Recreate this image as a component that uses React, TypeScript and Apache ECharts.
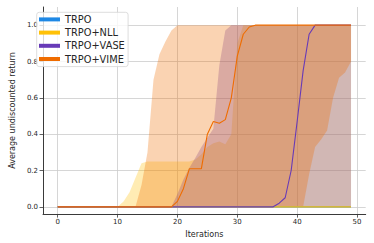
import { useEffect, useRef } from 'react';
import * as echarts from 'echarts';

const iterations = [0, 1, 2, 3, 4, 5, 6, 7, 8, 9, 10, 11, 12, 13, 14, 15, 16, 17, 18, 19, 20, 21, 22, 23, 24, 25, 26, 27, 28, 29, 30, 31, 32, 33, 34, 35, 36, 37, 38, 39, 40, 41, 42, 43, 44, 45, 46, 47, 48, 49];

const seriesNames = ['TRPO', 'TRPO+NLL', 'TRPO+VASE', 'TRPO+VIME'];
const seriesColors = ['#1e88e5', '#ffc107', '#673ab7', '#ef6c00'];

// mean curves
const trpoMean = [0, 0, 0, 0, 0, 0, 0, 0, 0, 0, 0, 0, 0, 0, 0, 0, 0, 0, 0, 0, 0, 0, 0, 0, 0, 0, 0, 0, 0, 0, 0, 0, 0, 0, 0, 0, 0, 0, 0, 0, 0, 0, 0, 0, 0, 0, 0, 0, 0, 0];
const nllMean = [0, 0, 0, 0, 0, 0, 0, 0, 0, 0, 0, 0, 0, 0, 0, 0, 0, 0, 0, 0, 0, 0, 0, 0, 0, 0, 0, 0, 0, 0, 0, 0, 0, 0, 0, 0, 0, 0, 0, 0, 0, 0, 0, 0, 0, 0, 0, 0, 0, 0];
const vaseMean = [0, 0, 0, 0, 0, 0, 0, 0, 0, 0, 0, 0, 0, 0, 0, 0, 0, 0, 0, 0, 0, 0, 0, 0, 0, 0, 0, 0, 0, 0, 0, 0, 0, 0, 0, 0, 0, 0.02, 0.05, 0.2, 0.47, 0.75, 0.95, 1, 1, 1, 1, 1, 1, 1];
const vimeMean = [0, 0, 0, 0, 0, 0, 0, 0, 0, 0, 0, 0, 0, 0, 0, 0, 0, 0, 0, 0, 0.03, 0.1, 0.21, 0.21, 0.21, 0.4, 0.47, 0.46, 0.48, 0.6, 0.83, 0.95, 0.99, 1, 1, 1, 1, 1, 1, 1, 1, 1, 1, 1, 1, 1, 1, 1, 1, 1];

// shaded bands (lower / upper)
const nllLower = [0, 0, 0, 0, 0, 0, 0, 0, 0, 0, 0, 0, 0, 0, 0, 0, 0, 0, 0, 0, 0, 0, 0, 0, 0, 0, 0, 0, 0, 0, 0, 0, 0, 0, 0, 0, 0, 0, 0, 0, 0, 0, 0, 0, 0, 0, 0, 0, 0, 0];
const nllUpper = [0, 0, 0, 0, 0, 0, 0, 0, 0, 0, 0, 0.03, 0.08, 0.16, 0.24, 0.25, 0.25, 0.25, 0.25, 0.25, 0.25, 0.25, 0.25, 0.26, 0.29, 0.33, 0.35, 0.36, 0.345, 0.4, 0.9, 1, 1, 1, 1, 1, 1, 1, 1, 1, 1, 1, 1, 1, 1, 1, 1, 1, 1, 1];
const vaseLower = [0, 0, 0, 0, 0, 0, 0, 0, 0, 0, 0, 0, 0, 0, 0, 0, 0, 0, 0, 0, 0, 0, 0, 0, 0, 0, 0, 0, 0, 0, 0, 0, 0, 0, 0, 0, 0, 0, 0, 0, 0, 0, 0, 0, 0, 0, 0, 0, 0, 0];
const vaseUpper = [0, 0, 0, 0, 0, 0, 0, 0, 0, 0, 0, 0, 0, 0, 0, 0, 0, 0, 0, 0, 0.07, 0.15, 0.215, 0.27, 0.33, 0.38, 0.43, 0.78, 0.97, 1, 1, 1, 1, 1, 1, 1, 1, 1, 1, 1, 1, 1, 1, 1, 1, 1, 1, 1, 1, 1];
const vimeLower = [0, 0, 0, 0, 0, 0, 0, 0, 0, 0, 0, 0, 0, 0, 0, 0, 0, 0, 0, 0, 0, 0, 0, 0, 0, 0, 0, 0, 0, 0, 0, 0, 0, 0, 0, 0, 0, 0, 0, 0, 0, 0, 0.18, 0.33, 0.37, 0.42, 0.6, 0.71, 0.74, 0.8];
const vimeUpper = [0, 0, 0, 0, 0, 0, 0, 0, 0, 0, 0, 0, 0, 0, 0.12, 0.3, 0.7, 0.84, 0.91, 0.97, 1, 1, 1, 1, 1, 1, 1, 1, 1, 1, 1, 1, 1, 1, 1, 1, 1, 1, 1, 1, 1, 1, 1, 1, 1, 1, 1, 1, 1, 1];

const xTicks = [0, 10, 20, 30, 40, 50];
const yTicks = [0, 0.2, 0.4, 0.6, 0.8, 1.0];

const FONT = 'DejaVu Sans';

function band(name: string, lower: number[], upper: number[], color: string) {
  return {
    type: 'custom',
    name,
    coordinateSystem: 'cartesian2d',
    silent: true,
    data: [[iterations[0], lower[0]]],
    renderItem: (_params: any, api: any) => {
      const pts: number[][] = [];
      for (let i = 0; i < iterations.length; i++) pts.push(api.coord([iterations[i], upper[i]]));
      for (let i = iterations.length - 1; i >= 0; i--) pts.push(api.coord([iterations[i], lower[i]]));
      return { type: 'polygon', shape: { points: pts }, style: { fill: color, opacity: 0.3 } };
    },
  };
}

function meanLine(name: string, values: number[], color: string) {
  return {
    type: 'line',
    name,
    data: iterations.map((x, i) => [x, values[i]]),
    showSymbol: false,
    symbol: 'none',
    lineStyle: { color, width: 1.1 },
    itemStyle: { color },
    silent: true,
  };
}

export default function App() {
  const ref = useRef<HTMLDivElement>(null);
  useEffect(() => {
    if (!ref.current) return;
    const chart = echarts.init(ref.current, undefined, { renderer: 'svg' });
    chart.setOption({
      animation: false,
      backgroundColor: '#ffffff',
      grid: { left: 32.5, right: 8.3, top: 7, bottom: 28, containLabel: false },
      legend: {
        data: seriesNames,
        orient: 'vertical',
        left: 36.7,
        top: 12.3,
        icon: 'rect',
        itemWidth: 21,
        itemHeight: 4,
        itemGap: 2,
        padding: [1.5, 3.3, 2, 2.3],
        backgroundColor: 'rgba(255,255,255,0.8)',
        borderColor: '#d4d4d4',
        borderWidth: 0.8,
        borderRadius: 2.5,
        textStyle: { fontSize: 9.8, fontFamily: FONT, color: '#262626', lineHeight: 11.2 },
        selectedMode: false,
      },
      xAxis: {
        type: 'value',
        min: -2.45,
        max: 51.45,
        name: 'Iterations',
        nameLocation: 'middle',
        nameGap: 12,
        nameTextStyle: { fontSize: 8, fontFamily: FONT, color: '#262626' },
        axisLine: { show: true, onZero: false, lineStyle: { color: '#3a3a3a', width: 1 } },
        axisTick: { show: true, length: 3.5, customValues: xTicks, lineStyle: { color: '#3a3a3a', width: 0.8 } },
        axisLabel: { customValues: xTicks, fontSize: 7, fontFamily: FONT, color: '#262626', margin: 4 },
        splitLine: { show: true, lineStyle: { color: '#cccccc', width: 0.8 } },
      },
      yAxis: {
        type: 'value',
        min: -0.04,
        max: 1.1,
        name: 'Average undiscounted return',
        nameLocation: 'middle',
        nameGap: 20,
        nameTextStyle: { fontSize: 8, fontFamily: FONT, color: '#262626' },
        axisLine: { show: true, onZero: false, lineStyle: { color: '#3a3a3a', width: 1 } },
        axisTick: { show: true, length: 3.5, customValues: yTicks, lineStyle: { color: '#3a3a3a', width: 0.8 } },
        axisLabel: {
          customValues: yTicks,
          fontSize: 7,
          fontFamily: FONT,
          color: '#262626',
          margin: 5,
          formatter: (v: number) => v.toFixed(1),
        },
        splitLine: { show: true, lineStyle: { color: '#cccccc', width: 0.8 } },
      },
      series: [
        band('TRPO+NLL band', nllLower, nllUpper, seriesColors[1]),
        band('TRPO+VASE band', vaseLower, vaseUpper, seriesColors[2]),
        band('TRPO+VIME band', vimeLower, vimeUpper, seriesColors[3]),
        meanLine(seriesNames[0], trpoMean, seriesColors[0]),
        meanLine(seriesNames[1], nllMean, seriesColors[1]),
        meanLine(seriesNames[2], vaseMean, seriesColors[2]),
        meanLine(seriesNames[3], vimeMean, seriesColors[3]),
      ],
    });
    return () => chart.dispose();
  }, []);
  return (
    <div
      ref={ref}
      style={{ position: 'fixed', left: 0, top: 0, width: 374, height: 243, background: '#fff' }}
    />
  );
}
